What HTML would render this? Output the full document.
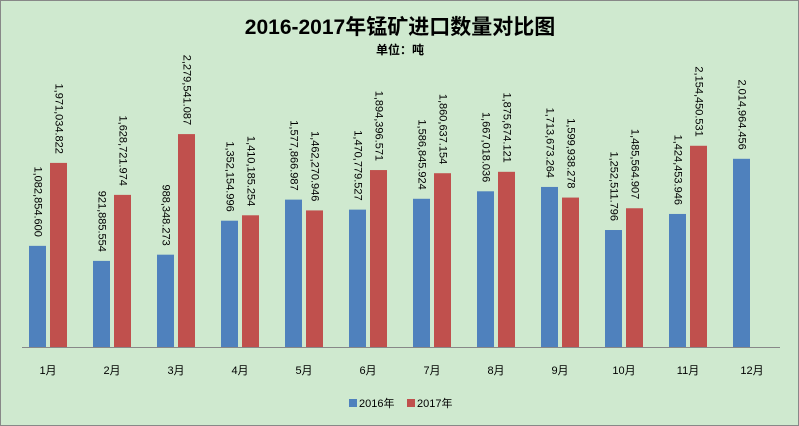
<!DOCTYPE html>
<html><head><meta charset="utf-8"><style>
html,body{margin:0;padding:0;background:#cfe9cf}
svg{display:block;font-family:"Liberation Sans","Noto Sans CJK SC",sans-serif}
</style></head><body>
<svg id="c" width="799" height="426">
<rect x="0.5" y="0.5" width="798" height="425" fill="#cfe9cf" stroke="#888"/>
<text x="400" y="34" text-anchor="middle" font-size="21" font-weight="bold">2016-2017年锰矿进口数量对比图</text>
<text x="400" y="54" text-anchor="middle" font-size="12" font-weight="bold">单位：吨</text>
<line x1="22" y1="347.5" x2="780" y2="347.5" stroke="#888"/>
<g id="bars"></g>
<rect x="349" y="399" width="8" height="8" fill="#4f81bd"/>
<text x="359" y="407" font-size="11">2016年</text>
<rect x="407" y="399" width="8" height="8" fill="#c0504d"/>
<text x="417" y="407" font-size="11">2017年</text>
</svg>
<script>
const categories=["1月","2月","3月","4月","5月","6月","7月","8月","9月","10月","11月","12月"];
const series2016=[1082854.600,921885.554,988348.273,1352154.996,1577866.987,1470779.527,1586845.924,1667018.036,1713673.264,1252511.796,1424453.946,2014964.456];
const series2017=[1971034.822,1628721.974,2279541.087,1410185.254,1462270.946,1894396.571,1860637.154,1875674.121,1599938.278,1485564.907,2154450.531,null];
const NS="http://www.w3.org/2000/svg";
const g=document.getElementById('bars');
const base=347, scale=93.4/1e6, x0=22, step=64;
function yPos(v){return base-v*scale;}
function fmt(v){return v.toLocaleString('en-US',{minimumFractionDigits:3,maximumFractionDigits:3});}
function bar(i,v,off,color,yr){
  if(v==null)return;
  const x=x0+step*i+off, y=yPos(v);
  const r=document.createElementNS(NS,'rect');
  r.setAttribute('x',x);r.setAttribute('y',y);r.setAttribute('width',17);r.setAttribute('height',base-y);r.setAttribute('fill',color);
  
  
  g.appendChild(r);
  const t=document.createElementNS(NS,'text');
  const cx=x+8.5, ty=y-9;
  t.setAttribute('transform','translate('+cx+','+ty+') rotate(90)');
  t.setAttribute('text-anchor','end');t.setAttribute('dominant-baseline','middle');t.setAttribute('font-size','11');
  t.textContent=fmt(v);
  
  
  g.appendChild(t);
}
categories.forEach((c,i)=>{
  bar(i,series2016[i],7,'#4f81bd','2016');
  bar(i,series2017[i],28,'#c0504d','2017');
  const t=document.createElementNS(NS,'text');
  t.setAttribute('x',x0+step*i+step/2-6);t.setAttribute('y',374);t.setAttribute('text-anchor','middle');t.setAttribute('font-size','11');
  t.textContent=c;
  
  
  g.appendChild(t);
});
</script>
</body></html>
